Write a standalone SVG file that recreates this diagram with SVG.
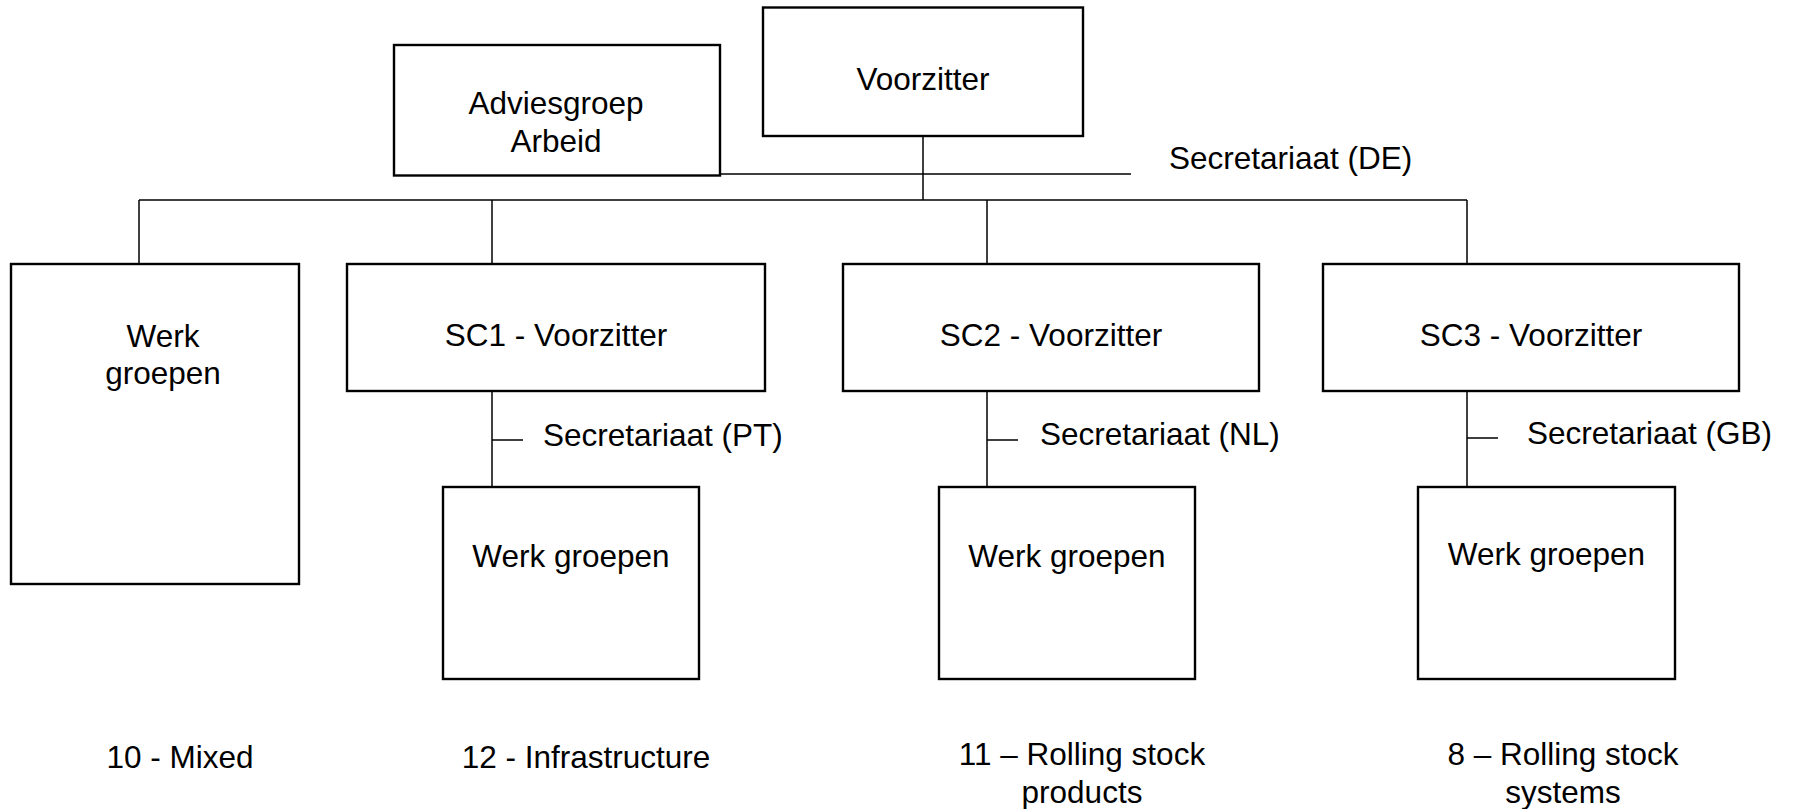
<svg xmlns="http://www.w3.org/2000/svg" width="1793" height="809" viewBox="0 0 1793 809">
<style>
.box{fill:#fff;stroke:#000;stroke-width:2.4}
.ln{stroke:#000;stroke-width:1.5;fill:none}
text{font-family:"Liberation Sans",Arial,Helvetica,sans-serif;font-size:31.5px;fill:#000}
.c{text-anchor:middle}
</style>
<rect width="1793" height="809" fill="#fff"/>
<g id="connectors">
<line class="ln" x1="923" y1="136" x2="923" y2="200"/>
<line class="ln" x1="139" y1="200" x2="1467" y2="200"/>
<line class="ln" x1="699" y1="174" x2="1131" y2="174"/>
<line class="ln" x1="139" y1="200" x2="139" y2="264"/>
<line class="ln" x1="492" y1="200" x2="492" y2="264"/>
<line class="ln" x1="987" y1="200" x2="987" y2="264"/>
<line class="ln" x1="1467" y1="200" x2="1467" y2="264"/>
<line class="ln" x1="492" y1="391" x2="492" y2="487"/>
<line class="ln" x1="987" y1="391" x2="987" y2="487"/>
<line class="ln" x1="1467" y1="391" x2="1467" y2="487"/>
<line class="ln" x1="492" y1="440" x2="523" y2="440"/>
<line class="ln" x1="987" y1="440" x2="1018" y2="440"/>
<line class="ln" x1="1467" y1="438" x2="1498" y2="438"/>
</g>
<g id="voorzitter">
<rect class="box" x="763" y="7.5" width="320" height="128.5"/>
<text class="c" x="923" y="90">Voorzitter</text>
</g>
<g id="adviesgroep">
<rect class="box" x="394" y="45" width="326" height="130.5"/>
<text class="c" x="556" y="113.5">Adviesgroep</text>
<text class="c" x="556" y="152">Arbeid</text>
</g>
<g id="secretariaat-de">
<text x="1169" y="168.5">Secretariaat (DE)</text>
</g>
<g id="werkgroepen-mixed">
<rect class="box" x="11" y="264" width="288" height="320"/>
<text class="c" x="163" y="346.5">Werk</text>
<text class="c" x="163" y="384">groepen</text>
</g>
<g id="sc1">
<rect class="box" x="347" y="264" width="418" height="127"/>
<text class="c" x="556" y="346">SC1 - Voorzitter</text>
</g>
<g id="sc2">
<rect class="box" x="843" y="264" width="416" height="127"/>
<text class="c" x="1051" y="346">SC2 - Voorzitter</text>
</g>
<g id="sc3">
<rect class="box" x="1323" y="264" width="416" height="127"/>
<text class="c" x="1531" y="346">SC3 - Voorzitter</text>
</g>
<g id="sec-pt"><text x="543" y="446">Secretariaat (PT)</text></g>
<g id="sec-nl"><text x="1040" y="445">Secretariaat (NL)</text></g>
<g id="sec-gb"><text x="1527" y="444">Secretariaat (GB)</text></g>
<g id="wg1">
<rect class="box" x="443" y="487" width="256" height="192"/>
<text class="c" x="571" y="567">Werk groepen</text>
</g>
<g id="wg2">
<rect class="box" x="939" y="487" width="256" height="192"/>
<text class="c" x="1067" y="567">Werk groepen</text>
</g>
<g id="wg3">
<rect class="box" x="1418" y="487" width="257" height="192"/>
<text class="c" x="1546.5" y="565">Werk groepen</text>
</g>
<g id="labels">
<text class="c" x="180" y="768">10 - Mixed</text>
<text class="c" x="586" y="768">12 - Infrastructure</text>
<text class="c" x="1082" y="765">11 – Rolling stock</text>
<text class="c" x="1082" y="803">products</text>
<text class="c" x="1563" y="765">8 – Rolling stock</text>
<text class="c" x="1563" y="803">systems</text>
</g>
</svg>
